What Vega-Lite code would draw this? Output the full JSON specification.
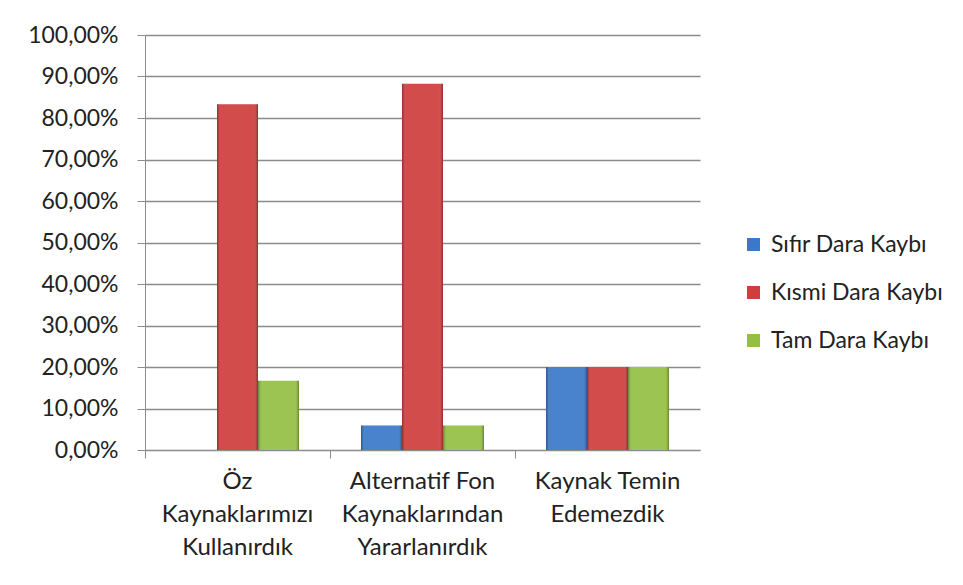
{
  "$schema": "https://vega.github.io/schema/vega-lite/v6.json",
  "autosize": "none",
  "width": 555,
  "height": 415,
  "padding": {"left": 145, "top": 35, "right": 263, "bottom": 135},
  "background": "white",
  "config": {
    "view": {"stroke": null},
    "font": "Lato",
    "axis": {"labelFont": "Lato", "labelColor": "#222222"},
    "legend": {"labelFont": "Lato"}
  },
  "data": {
    "values": [
      {"kategori": "Öz Kaynaklarımızı Kullanırdık", "seri": "Sıfır Dara Kaybı", "oran": 0},
      {"kategori": "Öz Kaynaklarımızı Kullanırdık", "seri": "Kısmi Dara Kaybı", "oran": 0.8333},
      {"kategori": "Öz Kaynaklarımızı Kullanırdık", "seri": "Tam Dara Kaybı", "oran": 0.1667},
      {"kategori": "Alternatif Fon Kaynaklarından Yararlanırdık", "seri": "Sıfır Dara Kaybı", "oran": 0.0588},
      {"kategori": "Alternatif Fon Kaynaklarından Yararlanırdık", "seri": "Kısmi Dara Kaybı", "oran": 0.8824},
      {"kategori": "Alternatif Fon Kaynaklarından Yararlanırdık", "seri": "Tam Dara Kaybı", "oran": 0.0588},
      {"kategori": "Kaynak Temin Edemezdik", "seri": "Sıfır Dara Kaybı", "oran": 0.2},
      {"kategori": "Kaynak Temin Edemezdik", "seri": "Kısmi Dara Kaybı", "oran": 0.2},
      {"kategori": "Kaynak Temin Edemezdik", "seri": "Tam Dara Kaybı", "oran": 0.2}
    ]
  },
  "encoding": {
    "x": {
      "field": "kategori",
      "type": "nominal",
      "sort": null,
      "scale": {"paddingInner": 0, "paddingOuter": 0},
      "axis": {
        "title": null,
        "labelAngle": 0,
        "labelFontSize": 24,
        "labelLineHeight": 33,
        "labelPadding": 11,
        "labelBaseline": "top",
        "labelOverlap": false,
        "labelBound": false,
        "bandPosition": 0,
        "tickSize": 8,
        "tickColor": "#8c8c8c",
        "domainColor": "#8c8c8c",
        "labelExpr": "datum.value == 'Öz Kaynaklarımızı Kullanırdık' ? ['Öz', 'Kaynaklarımızı', 'Kullanırdık'] : datum.value == 'Alternatif Fon Kaynaklarından Yararlanırdık' ? ['Alternatif Fon', 'Kaynaklarından', 'Yararlanırdık'] : ['Kaynak Temin', 'Edemezdik']",
        "labelAlign": "center"
      }
    },
    "xOffset": {
      "field": "seri",
      "type": "nominal",
      "sort": ["Sıfır Dara Kaybı", "Kısmi Dara Kaybı", "Tam Dara Kaybı"],
      "scale": {"paddingInner": 0, "paddingOuter": 0.756}
    },
    "y": {
      "field": "oran",
      "type": "quantitative",
      "scale": {"domain": [0, 1]},
      "axis": {
        "title": null,
        "values": [0, 0.1, 0.2, 0.3, 0.4, 0.5, 0.6, 0.7, 0.8, 0.9, 1],
        "labelExpr": "replace(format(datum.value, '.2%'), '.', ',')",
        "labelFontSize": 23,
        "labelPadding": 19,
        "labelOverlap": false,
        "labelBound": false,
        "labelFlush": false,
        "tickSize": 8,
        "tickColor": "#8c8c8c",
        "domainColor": "#8c8c8c",
        "gridColor": "#8c8c8c",
        "gridWidth": 1.5
      }
    }
  },
  "layer": [
    {
      "mark": {"type": "bar"},
      "encoding": {
        "color": {
          "field": "seri",
          "type": "nominal",
          "sort": ["Sıfır Dara Kaybı", "Kısmi Dara Kaybı", "Tam Dara Kaybı"],
          "scale": {"range": ["#3A78C9", "#CF3D3D", "#94BF43"]},
          "legend": {
            "title": null,
            "orient": "none",
            "legendX": 597,
            "legendY": 198,
            "symbolType": "square",
            "symbolSize": 170,
            "symbolStrokeWidth": 0.5,
            "labelFontSize": 23,
            "labelLimit": 400,
            "labelColor": "#222222",
            "rowPadding": 24,
            "labelOffset": 6
          }
        }
      }
    },
    {
      "mark": {
        "type": "bar",
        "fill": {
          "gradient": "linear",
          "x1": 0, "y1": 0, "x2": 1, "y2": 0,
          "stops": [
            {"offset": 0, "color": "rgba(0,0,0,0.32)"},
            {"offset": 0.1, "color": "rgba(255,255,255,0.08)"},
            {"offset": 0.9, "color": "rgba(255,255,255,0.08)"},
            {"offset": 1, "color": "rgba(0,0,0,0.32)"}
          ]
        }
      }
    }
  ]
}
